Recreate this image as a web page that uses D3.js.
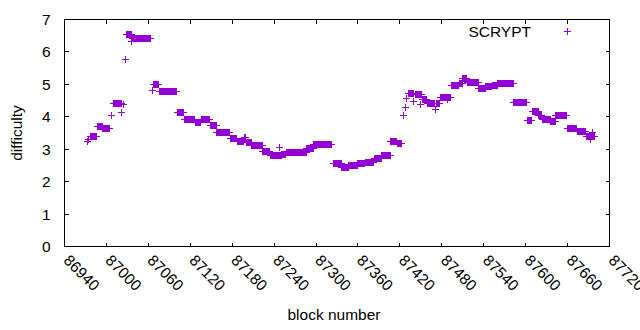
<!DOCTYPE html>
<html>
<head>
<meta charset="utf-8">
<script src="https://cdn.jsdelivr.net/npm/d3@7"></script>
<style>
  body { margin: 0; background: #fff; }
  text { font-family: "Liberation Sans", Arial, sans-serif; }
</style>
</head>
<body>
<div id="chart"></div>
<script>

// difficulty only changes at retargets, so the series is kept as runs of
// consecutive blocks sharing one value, plus the odd blocks in between
let runStart = [86977, 86987, 86995, 87010, 87029, 87037, 87068, 87076, 87102, 87112,
    87127, 87136, 87149, 87158, 87177, 87187, 87197, 87200, 87208, 87224,
    87235, 87251, 87258, 87287, 87297, 87325, 87337, 87347, 87360, 87371,
    87383, 87394, 87407, 87416, 87432, 87442, 87452, 87459, 87472, 87478,
    87494, 87505, 87510, 87517, 87533, 87543, 87552, 87560, 87583, 87602,
    87610, 87619, 87624, 87636, 87643, 87660, 87674, 87687];
let runEnd = [86986, 86994, 87004, 87022, 87036, 87063, 87075, 87101, 87111, 87126,
    87135, 87148, 87157, 87176, 87186, 87196, 87199, 87207, 87223, 87234,
    87250, 87257, 87286, 87296, 87322, 87336, 87346, 87359, 87370, 87382,
    87393, 87406, 87415, 87423, 87439, 87451, 87458, 87470, 87477, 87492,
    87504, 87509, 87516, 87532, 87542, 87551, 87559, 87582, 87601, 87609,
    87618, 87623, 87635, 87642, 87659, 87673, 87686, 87698];
let runDiff = [3.40, 3.70, 3.63, 4.40, 6.53, 6.42, 5.00, 4.77, 4.12, 3.92,
    3.83, 3.93, 3.73, 3.51, 3.34, 3.25, 3.36, 3.20, 3.10, 2.93,
    2.82, 2.85, 2.90, 3.03, 3.16, 2.57, 2.43, 2.51, 2.55, 2.60,
    2.70, 2.80, 3.25, 3.18, 4.73, 4.69, 4.53, 4.41, 4.40, 4.61,
    4.97, 5.02, 5.17, 5.05, 4.87, 4.92, 4.98, 5.03, 4.43, 3.90,
    4.15, 4.05, 3.93, 3.85, 4.05, 3.65, 3.55, 3.38];

let loneBlock = [86973, 86975, 87007, 87022, 87025, 87027, 87036, 87066, 87248, 87425,
    87428, 87430, 87440, 87449, 87471, 87488, 87693, 87695];
let loneDiff = [3.25, 3.29, 4.03, 4.14, 4.37, 5.78, 6.31, 4.80, 3.06, 4.03,
    4.30, 4.57, 4.47, 4.39, 4.24, 4.52, 3.29, 3.51];

let xTicks = [86940, 87000, 87060, 87120, 87180, 87240, 87300, 87360, 87420, 87480, 87540, 87600, 87660, 87720];
let yTicks = [0, 1, 2, 3, 4, 5, 6, 7];

let seriesName = "SCRYPT";

let width = 640,
    height = 330,
    plotLeft = 64.5,
    plotRight = 609.5,
    plotTop = 19.5,
    plotBottom = 246.5,
    purple = "#9400d3",
    fontSize = "15.5px";

let svg = d3.select("#chart").append("svg")
    .attr("width", width)
    .attr("height", height);

let x = d3.scaleLinear().domain([86940, 87720]).range([plotLeft, plotRight]);
let y = d3.scaleLinear().domain([0, 7]).range([plotBottom, plotTop]);

// axes, ticks pointing inward, mirrored on top and right
let xAxis = svg.append("g")
    .attr("transform", "translate(0," + plotBottom + ")")
    .call(d3.axisBottom(x).tickValues(xTicks).tickFormat(d3.format("d"))
        .tickSizeInner(-4).tickSizeOuter(0).offset(0));
xAxis.select(".domain").remove();
xAxis.selectAll("text")
    .attr("x", 0)
    .attr("y", 0)
    .attr("dy", "0.35em")
    .attr("transform", "translate(2,11) rotate(45)")
    .style("text-anchor", "start");

let xTop = svg.append("g")
    .attr("transform", "translate(0," + plotTop + ")")
    .call(d3.axisTop(x).tickValues(xTicks).tickFormat("")
        .tickSizeInner(-4).tickSizeOuter(0).offset(0));
xTop.select(".domain").remove();

let yAxis = svg.append("g")
    .attr("transform", "translate(" + plotLeft + ",0)")
    .call(d3.axisLeft(y).tickValues(yTicks).tickFormat(d3.format("d"))
        .tickSizeInner(-4).tickSizeOuter(0).tickPadding(14).offset(0));
yAxis.select(".domain").remove();
yAxis.selectAll("text").attr("dy", "0.35em");

let yRight = svg.append("g")
    .attr("transform", "translate(" + plotRight + ",0)")
    .call(d3.axisRight(y).tickValues(yTicks).tickFormat("")
        .tickSizeInner(-4).tickSizeOuter(0).offset(0));
yRight.select(".domain").remove();

svg.selectAll(".tick line")
    .attr("stroke", "#000")
    .attr("shape-rendering", "crispEdges");
svg.selectAll(".tick text")
    .attr("fill", "#000")
    .attr("font-size", fontSize)
    .attr("font-family", "'Liberation Sans', Arial, sans-serif");

svg.append("rect")
    .attr("x", plotLeft)
    .attr("y", plotTop)
    .attr("width", plotRight - plotLeft)
    .attr("height", plotBottom - plotTop)
    .attr("fill", "none")
    .attr("stroke", "#000")
    .attr("shape-rendering", "crispEdges");

// axis titles
svg.append("text")
    .attr("transform", "translate(17," + ((plotTop + plotBottom) / 2) + ") rotate(-90)")
    .attr("dy", "0.35em")
    .attr("text-anchor", "middle")
    .attr("font-size", fontSize)
    .text("difficulty");

svg.append("text")
    .attr("x", 334)
    .attr("y", 315)
    .attr("dy", "0.35em")
    .attr("text-anchor", "middle")
    .attr("font-size", fontSize)
    .text("block number");

// points
let points = [];
runStart.forEach(function (s, i) {
    for (let b = s; b <= runEnd[i]; b++) {
        points.push({block: b, diff: runDiff[i]});
    }
});
loneBlock.forEach(function (b, i) {
    points.push({block: b, diff: loneDiff[i]});
});

let plus = "M-3.5,0H3.5M0,-3.5V3.5";

svg.append("g")
    .selectAll("path")
    .data(points)
    .enter().append("path")
    .attr("d", plus)
    .attr("transform", function (d) {
        return "translate(" + (Math.floor(x(d.block)) + 0.5) + "," + (Math.floor(y(d.diff)) + 0.5) + ")";
    })
    .attr("fill", "none")
    .attr("stroke", purple)
    .attr("stroke-width", 1)
    .attr("shape-rendering", "crispEdges");

// key
svg.append("text")
    .attr("x", 531)
    .attr("y", 31.5)
    .attr("dy", "0.35em")
    .attr("text-anchor", "end")
    .attr("font-size", fontSize)
    .text(seriesName);

svg.append("path")
    .attr("d", plus)
    .attr("transform", "translate(567.5,31.5)")
    .attr("fill", "none")
    .attr("stroke", purple)
    .attr("shape-rendering", "crispEdges");

</script>
</body>
</html>
